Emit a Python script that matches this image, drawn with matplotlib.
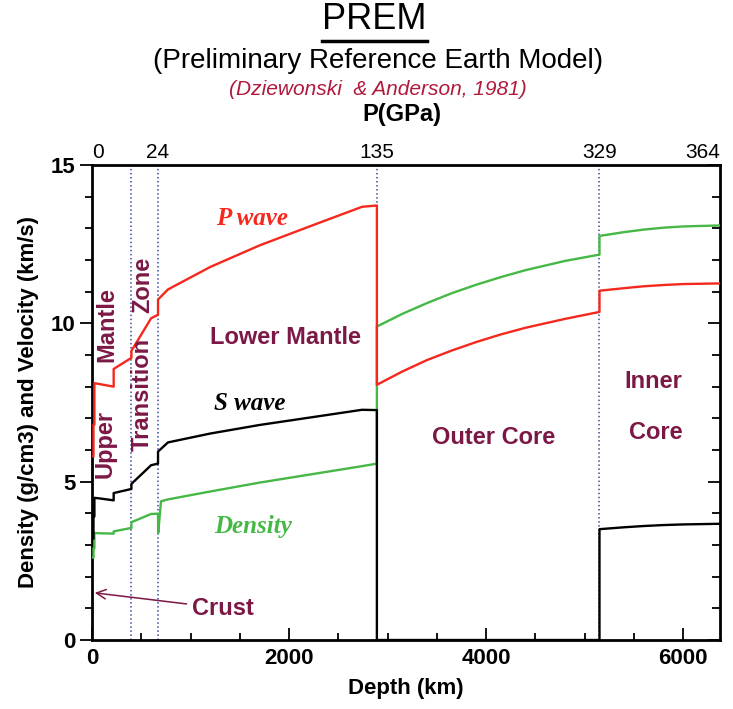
import matplotlib.pyplot as plt
from matplotlib.lines import Line2D
from matplotlib.ticker import MultipleLocator

# PREM profiles (depth in km)
depth_p = [0, 15, 15, 24.4, 24.4, 80, 220, 220, 400, 400, 600, 670, 670, 771,
           1200, 1700, 2200, 2741, 2891, 2891, 3150, 3400, 3650, 3900, 4150,
           4400, 4800, 5150, 5150, 5400, 5600, 5800, 6000, 6371]
vp = [5.8, 5.8, 6.8, 6.8, 8.11, 8.08, 8.0, 8.56, 8.91, 9.13, 10.16, 10.27, 10.75, 11.07,
      11.78, 12.46, 13.05, 13.68, 13.72, 8.06, 8.48, 8.84, 9.14, 9.41, 9.65,
      9.86, 10.14, 10.36, 11.03, 11.11, 11.17, 11.21, 11.24, 11.26]

depth_s = [0, 15, 15, 24.4, 24.4, 80, 220, 220, 400, 400, 600, 670, 670, 771,
           1200, 1700, 2200, 2741, 2891, 2891, 5150, 5150, 5400, 5600, 5800, 6000, 6371]
vs = [3.2, 3.2, 3.9, 3.9, 4.49, 4.47, 4.41, 4.64, 4.77, 4.93, 5.52, 5.57, 5.95, 6.24,
      6.52, 6.79, 7.02, 7.27, 7.26, 0.0, 0.0, 3.50, 3.56, 3.60, 3.63, 3.65, 3.67]

depth_rho = [0, 15, 15, 24.4, 24.4, 80, 220, 220, 400, 400, 600, 670, 672, 700, 771,
             1200, 1700, 2200, 2741, 2891, 2891, 3150, 3400, 3650, 3900, 4150,
             4400, 4800, 5150, 5150, 5400, 5600, 5800, 6000, 6371]
rho = [2.6, 2.6, 2.9, 2.9, 3.38, 3.37, 3.36, 3.43, 3.54, 3.72, 3.98, 3.99, 3.38, 4.38, 4.44,
       4.69, 4.97, 5.22, 5.49, 5.57, 9.90, 10.30, 10.64, 10.95, 11.22, 11.46,
       11.68, 11.97, 12.17, 12.76, 12.88, 12.96, 13.02, 13.06, 13.09]

boundaries = [0, 400, 670, 2891, 5150]
pressure_depths = [0, 670, 2891, 5150, 6371]
pressure_labels = ['0', '24', '135', '329', '364']

red = '#f5281e'
green = '#45b845'
maroon = '#7c1846'

plt.rcParams['font.family'] = ['Liberation Sans', 'DejaVu Sans']

fig = plt.figure(figsize=(7.33, 7.09), dpi=100)
ax = fig.add_axes([0.1255, 0.0973, 0.8565, 0.67])

for b in boundaries:
    ax.axvline(b, color='#3a4aa8', linestyle=':', linewidth=1.1, zorder=1)

ax.plot(depth_rho, rho, color=green, linewidth=1.7, zorder=3)
ax.plot(depth_s, vs, color='black', linewidth=1.7, zorder=3)
ax.plot(depth_p, vp, color=red, linewidth=1.7, zorder=3)

ax.set_xlim(0, 6371)
ax.set_ylim(0, 15)

ax.xaxis.set_major_locator(MultipleLocator(2000))
ax.xaxis.set_minor_locator(MultipleLocator(500))
ax.yaxis.set_major_locator(MultipleLocator(5))
ax.yaxis.set_minor_locator(MultipleLocator(1))

ax.tick_params(axis='x', which='both', direction='in', top=True, bottom=True,
               width=1.3, labelsize=16, pad=6)
ax.tick_params(axis='x', which='major', length=9)
ax.tick_params(axis='x', which='minor', length=5)
ax.tick_params(axis='y', which='both', direction='out', width=1.3,
               labelsize=16, pad=3)
ax.tick_params(axis='y', which='major', length=9)
ax.tick_params(axis='y', which='minor', length=5)
for lbl in ax.get_xticklabels() + ax.get_yticklabels():
    lbl.set_fontweight('bold')

for sp in ax.spines.values():
    sp.set_linewidth(2)

ax.set_xlabel('Depth (km)', fontsize=16, fontweight='bold', labelpad=6)
ax.set_ylabel('Density (g/cm3) and Velocity (km/s)', fontsize=16,
              fontweight='bold', labelpad=8)

# right-hand inward ticks
ax_r = ax.twinx()
ax_r.set_ylim(ax.get_ylim())
ax_r.yaxis.set_major_locator(MultipleLocator(5))
ax_r.yaxis.set_minor_locator(MultipleLocator(1))
ax_r.tick_params(axis='y', which='both', direction='in', width=1.3, labelright=False)
ax_r.tick_params(axis='y', which='major', length=9)
ax_r.tick_params(axis='y', which='minor', length=6)

# pressure labels on top
ax_top = ax.twiny()
ax_top.set_xlim(ax.get_xlim())
ax_top.set_xticks(pressure_depths)
ax_top.set_xticklabels(pressure_labels)
ax_top.tick_params(axis='x', length=0, labelsize=15, pad=2)
ax_top.get_xticklabels()[0].set_horizontalalignment('left')
ax_top.get_xticklabels()[-1].set_horizontalalignment('right')
for sp in ax_top.spines.values():
    sp.set_visible(False)
for sp in ax_r.spines.values():
    sp.set_visible(False)

# region labels
lab = dict(color=maroon, fontsize=17, fontweight='bold', ha='center', va='center')
ax.text(132, 6.2, 'Upper', rotation=90, **lab)
ax.text(150, 9.95, 'Mantle', rotation=90, **lab)
ax.text(510, 7.75, 'Transition', rotation=90, **lab)
ax.text(520, 11.2, 'Zone', rotation=90, **lab)
ax.text(1960, 9.55, 'Lower Mantle', **lab)
ax.text(4075, 6.38, 'Outer Core', **lab)
ax.text(5700, 8.15, 'Inner', **lab)
ax.text(5720, 6.55, 'Core', **lab)

serif = dict(family=['Liberation Serif', 'DejaVu Serif'], fontsize=18,
             fontweight='bold', fontstyle='italic', ha='center', va='center')
ax.text(1625, 13.3, 'P wave', color=red, **serif)
ax.text(1605, 7.48, 'S wave', color='black', **serif)
ax.text(1640, 3.57, 'Density', color=green, **serif)

ax.annotate('Crust', xy=(0, 1.5), xytext=(1330, 1.0), color=maroon, fontsize=17,
            fontweight='bold', ha='center', va='center',
            arrowprops=dict(arrowstyle='->', color=maroon, lw=1.1))

# titles
t = fig.text(0.511, 0.972, 'PREM', fontsize=26, ha='center', va='center')
fig.text(0.516, 0.914, '(Preliminary Reference Earth Model)', fontsize=20,
         ha='center', va='center')
fig.text(0.516, 0.874, '(Dziewonski  & Anderson, 1981)', fontsize=15,
         fontstyle='italic', color='#b0193c', ha='center', va='center')
fig.text(0.548, 0.839, 'P(GPa)', fontsize=17, fontweight='bold',
         ha='center', va='center')

fig.canvas.draw()
bb = t.get_window_extent()
W, H = fig.bbox.width, fig.bbox.height
yl = (bb.y0 - 4) / H
fig.add_artist(Line2D([bb.x0 / W, bb.x1 / W], [yl, yl], color='black',
                      linewidth=2.5, transform=fig.transFigure))

fig.savefig('out.png', dpi=100)
